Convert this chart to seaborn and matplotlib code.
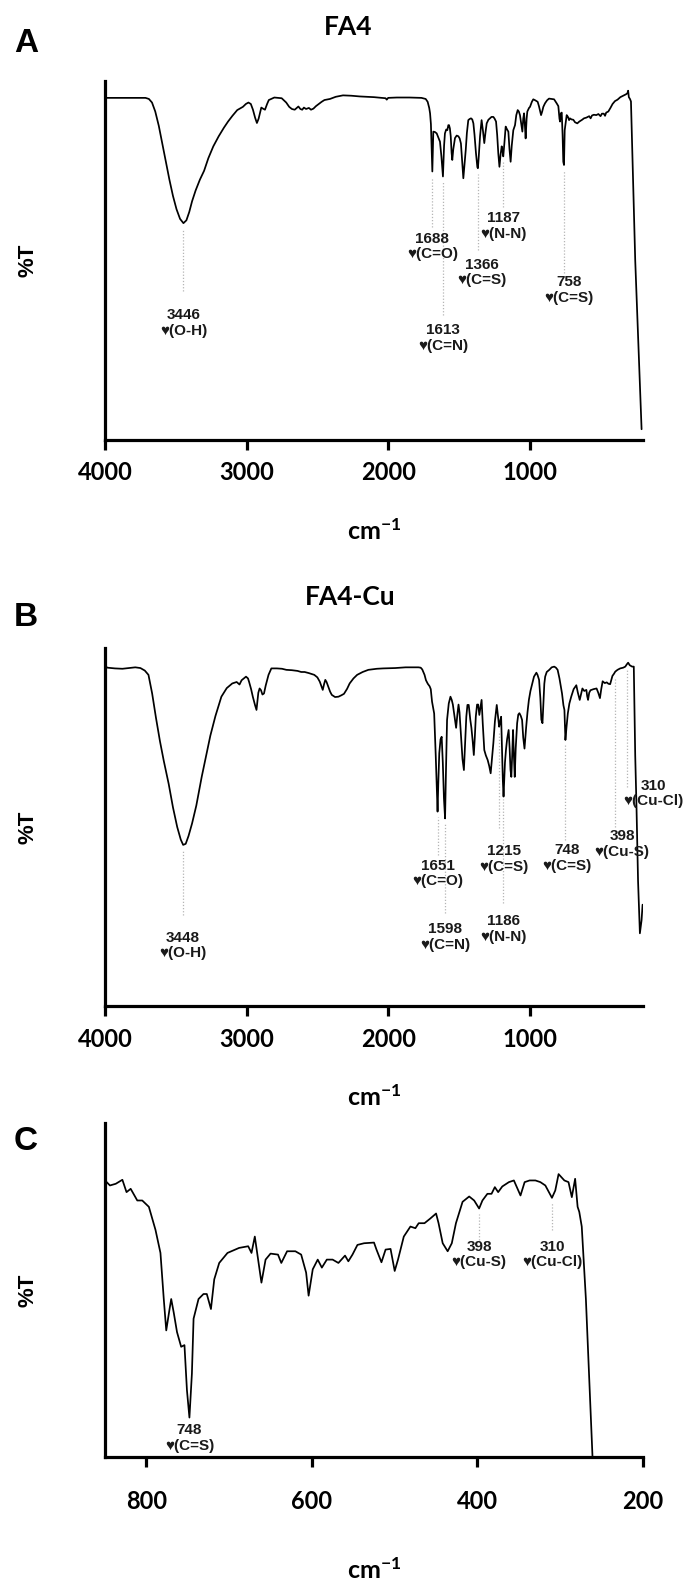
import numpy as np
import pandas as pd
import matplotlib
matplotlib.use("Agg")
import matplotlib.pyplot as plt
import seaborn as sns

# ---------------- data: panel A (FA4) ----------------
A_wn = [4000, 3850, 3714, 3690, 3668, 3645, 3620, 3595, 3570, 3545, 3520, 3495, 3470, 3446,
        3425, 3405, 3385, 3360, 3330, 3300, 3270, 3235, 3197, 3160, 3131, 3100, 3066, 3040,
        3026, 3005, 2987, 2970, 2955, 2940, 2927, 2915, 2909, 2896, 2884, 2870, 2855, 2843,
        2804, 2752, 2720, 2699, 2680, 2660, 2645, 2634, 2620, 2607, 2595, 2580, 2560, 2545,
        2528, 2510, 2490, 2470, 2450, 2411, 2370, 2319, 2260, 2201, 2100, 2050, 2018, 2010,
        2000, 1939, 1850, 1765, 1735, 1721, 1710, 1704, 1698, 1688, 1681, 1670, 1657, 1645,
        1634, 1624, 1613, 1605, 1599, 1590, 1582, 1575, 1570, 1564, 1558, 1552, 1547, 1540,
        1528, 1516, 1504, 1495, 1486, 1478, 1469, 1460, 1452, 1444, 1434, 1425, 1415, 1406,
        1398, 1390, 1380, 1370, 1366, 1360, 1351, 1343, 1340, 1330, 1321, 1313, 1304, 1292,
        1281, 1270, 1257, 1248, 1238, 1230, 1222, 1214, 1206, 1198, 1192, 1187, 1179, 1172,
        1170, 1160, 1151, 1143, 1135, 1127, 1116, 1104, 1095, 1085, 1077, 1069, 1060, 1052,
        1046, 1040, 1034, 1029, 1022, 1017, 1005, 998, 985, 975, 960, 944, 935, 926, 920,
        912, 904, 892, 878, 864, 845, 828, 810, 798, 790, 786, 780, 774, 768, 763, 758, 753,
        746, 739, 730, 722, 716, 705, 692, 680, 664, 650, 630, 617, 600, 580, 570, 560, 547,
        530, 515, 500, 490, 477, 468, 460, 445, 430, 415, 398, 380, 360, 340, 320, 310, 305,
        300, 292, 285, 255, 210]
A_T = [95.3, 95.3, 95.3, 95.0, 94.0, 91.5, 87.5, 82.5, 77.5, 72.5, 68.0, 64.3, 61.6, 60.4,
       61.2, 63.5, 66.5, 69.5, 72.5, 75.0, 78.5, 81.8, 84.6, 87.0, 88.7, 90.3, 91.9, 92.5,
       92.8, 93.6, 94.0, 93.6, 92.0, 89.8, 88.3, 89.5, 90.5, 92.6, 92.3, 92.0, 93.6, 94.7,
       95.4, 95.2, 94.0, 92.8, 92.2, 92.0, 92.5, 92.9, 92.2, 92.0, 92.6, 92.2, 92.5, 92.0,
       92.3, 93.0, 93.6, 94.2, 94.7, 95.0, 95.6, 96.0, 95.9, 95.7, 95.5, 95.3, 95.2, 94.8,
       95.3, 95.4, 95.4, 95.3, 95.0, 94.2, 92.5, 91.0, 88.0, 74.8, 85.9, 85.8, 85.4, 84.2,
       83.1, 79.0, 73.4, 82.0, 85.4, 86.5, 86.3, 87.7, 87.7, 86.8, 84.6, 80.0, 78.0, 81.0,
       84.1, 84.8, 84.6, 84.0, 82.6, 78.0, 72.9, 77.0, 80.8, 85.5, 89.1, 89.4, 89.6, 89.3,
       88.2, 85.0, 80.0, 76.0, 75.7, 79.0, 84.6, 88.0, 89.1, 86.0, 82.7, 85.5, 88.2, 89.2,
       89.6, 90.0, 90.0, 89.5, 88.7, 85.0, 79.8, 76.1, 79.5, 81.8, 80.5, 79.0, 82.7, 86.5,
       87.3, 86.5, 85.9, 81.0, 77.5, 82.0, 86.3, 87.7, 90.5, 91.9, 91.5, 90.5, 88.0, 85.9,
       89.5, 91.0, 87.5, 84.0, 89.5, 91.5, 92.5, 92.8, 94.2, 94.9, 94.6, 94.2, 93.0, 91.5, 90.5,
       91.5, 92.8, 93.8, 94.6, 95.1, 95.0, 94.9, 93.8, 93.0, 89.5, 88.7, 91.0, 91.2, 85.0, 77.5,
       76.6, 86.3, 88.5, 90.5, 90.0, 89.1, 89.6, 89.3, 89.2, 88.5, 88.2, 88.7, 89.2, 89.6, 89.8,
       90.2, 89.6, 90.4, 90.6, 90.5, 90.8, 90.2, 90.9, 90.9, 90.3, 91.2, 91.5, 92.5, 93.6, 94.4,
       94.8, 95.5, 95.9, 96.3, 96.6, 97.3, 95.5, 95.0, 94.3, 50.1, 3.0]
A_peaks = [3446, 1688, 1613, 1366, 1187, 758]
A_modes = ["O-H", "C=O", "C=N", "C=S", "N-N", "C=S"]

# ---------------- data: panel B (FA4-Cu) ----------------
B_wn = [4000, 3982, 3930, 3877, 3830, 3786, 3750, 3719, 3693, 3667, 3640, 3612, 3585, 3550,
        3520, 3490, 3465, 3448, 3430, 3410, 3385, 3355, 3317, 3285, 3256, 3220, 3178, 3140,
        3101, 3070, 3050, 3035, 3004, 2990, 2982, 2968, 2956, 2940, 2930, 2922, 2917, 2908,
        2898, 2888, 2877, 2865, 2845, 2825, 2786, 2750, 2719, 2680, 2640, 2614, 2590, 2561,
        2522, 2500, 2483, 2470, 2462, 2452, 2444, 2435, 2425, 2410, 2398, 2375, 2351, 2330,
        2312, 2290, 2272, 2245, 2219, 2180, 2140, 2080, 2035, 1950, 1877, 1786, 1770, 1759,
        1743, 1733, 1720, 1707, 1699, 1690, 1675, 1664, 1656, 1651, 1646, 1639, 1630, 1622,
        1614, 1606, 1598, 1592, 1584, 1572, 1560, 1551, 1543, 1530, 1520, 1511, 1503, 1496,
        1484, 1475, 1465, 1456, 1448, 1440, 1431, 1420, 1412, 1403, 1395, 1388, 1381, 1372,
        1364, 1356, 1348, 1340, 1332, 1321, 1310, 1297, 1286, 1276, 1266, 1257, 1246, 1233,
        1226, 1216, 1209, 1202, 1196, 1190, 1185, 1180, 1175, 1168, 1160, 1149, 1142, 1136,
        1130, 1124, 1118, 1112, 1106, 1099, 1089, 1081, 1073, 1063, 1054, 1046, 1037, 1031,
        1025, 1016, 1006, 995, 982, 970, 953, 945, 934, 925, 918, 910, 904, 897, 891, 880,
        862, 845, 827, 815, 803, 790, 772, 762, 755, 748, 740, 731, 720, 707, 690, 671, 660,
        647, 638, 628, 615, 600, 594, 588, 580, 571, 550, 528, 516, 504, 495, 485, 470, 456,
        444, 432, 424, 416, 405, 396, 380, 361, 340, 325, 315, 305, 294, 285, 277, 265, 255,
        246, 235, 222, 210, 203]
B_T = [94.9, 94.5, 94.3, 94.2, 94.4, 94.6, 94.4, 93.7, 92.5, 87.3, 80.5, 74.0, 68.5, 62.0,
       55.5, 50.0, 46.5, 45.0, 45.3, 47.5, 51.0, 56.0, 64.0, 70.0, 75.5, 81.0, 86.4, 88.8,
       90.1, 90.5, 89.8, 91.0, 92.0, 91.5, 90.5, 88.5, 86.4, 84.0, 82.7, 85.5, 87.5, 88.7,
       88.2, 87.0, 87.3, 89.5, 92.5, 94.3, 94.3, 94.2, 93.9, 93.8, 93.6, 93.3, 93.3, 93.0,
       92.5, 91.8, 90.6, 89.2, 88.3, 90.0, 91.1, 90.5, 89.4, 87.8, 86.9, 86.3, 86.4, 86.8,
       87.2, 88.6, 90.1, 91.5, 92.5, 93.3, 93.9, 94.2, 94.3, 94.4, 94.6, 94.6, 94.5, 94.0,
       92.5, 91.0, 90.0, 89.3, 88.5, 85.0, 81.7, 70.0, 60.0, 54.3, 62.0, 70.6, 74.5, 75.2,
       68.0, 58.0, 52.4, 65.0, 79.9, 84.5, 86.4, 85.5, 84.2, 80.5, 77.7, 81.5, 84.2, 82.0,
       74.8, 69.0, 65.9, 74.0, 80.8, 84.1, 84.1, 80.0, 77.7, 74.0, 70.1, 75.0, 80.8, 84.2,
       84.2, 81.3, 83.5, 85.5, 79.0, 71.5, 70.0, 68.7, 67.0, 65.0, 69.5, 73.4, 79.5, 84.1,
       81.5, 78.0, 79.5, 80.8, 72.0, 63.0, 58.5, 63.0, 68.0, 71.5, 74.5, 77.1, 72.0, 66.0,
       64.0, 70.0, 77.1, 70.0, 64.0, 72.0, 79.0, 81.4, 81.8, 81.0, 79.9, 75.0, 71.9, 75.0,
       78.0, 82.0, 85.5, 88.0, 90.1, 92.0, 93.1, 92.5, 91.1, 86.0, 80.0, 79.0, 84.0, 90.0, 92.0, 93.3,
       93.9, 94.6, 94.8, 94.5, 93.9, 91.5, 87.3, 84.0, 82.7, 74.3, 78.0, 81.7, 84.5, 86.4, 88.5, 89.6, 87.5,
       85.5, 87.0, 88.7, 88.0, 88.3, 86.5, 85.5, 87.5, 88.2, 88.5, 88.7, 87.5, 86.0, 88.5, 90.7, 90.2, 90.4,
       90.0, 89.9, 91.0, 92.2, 92.8, 93.4, 93.9, 94.3, 94.5, 94.8, 95.4, 95.9, 95.2, 95.0, 94.8, 94.8, 70.0,
       55.7, 35.0, 20.3, 24.0, 28.3]
B_peaks = [3448, 1651, 1598, 1215, 1186, 748, 398, 310]
B_modes = ["O-H", "C=O", "C=N", "C=S", "N-N", "C=S", "Cu-S", "Cu-Cl"]

# ---------------- data: panel C (FA4-Cu, 850-200 cm-1) ----------------
C_wn = [850, 844, 837, 829, 824, 819, 811, 805, 797, 789, 783, 779, 776, 772, 770, 767, 763,
        758, 754, 751, 748, 745, 743, 737, 731, 727, 722, 718, 712, 702, 688, 677, 673, 669,
        665, 661, 656, 650, 641, 637, 630, 620, 613, 607, 604, 599, 593, 588, 582, 575, 568,
        560, 556, 551, 545, 537, 525, 522, 516, 511, 505, 500, 496, 489, 481, 475, 471, 464,
        457, 450, 447, 442, 436, 431, 426, 418, 410, 404, 398, 394, 388, 383, 379, 375, 370,
        362, 356, 348, 343, 337, 330, 324, 318, 310, 306, 302, 295, 290, 286, 282, 279, 277,
        274, 269, 261]
C_T = [82.8, 81.3, 81.8, 83.0, 79.3, 80.3, 76.8, 76.8, 74.9, 68.0, 61.1, 47.3, 37.9, 44.3,
       47.3, 43.3, 37.4, 33.0, 33.5, 20.0, 11.8, 25.0, 41.4, 47.3, 48.8, 48.8, 44.3, 53.2,
       58.1, 61.1, 62.6, 63.1, 61.1, 66.0, 59.1, 52.2, 59.1, 60.9, 60.6, 58.1, 61.6, 61.6,
       60.6, 55.2, 48.3, 56.2, 59.1, 56.7, 59.1, 59.1, 58.1, 60.3, 58.6, 60.6, 63.5, 64.0,
       64.2, 62.1, 58.3, 62.1, 62.3, 55.7, 59.1, 66.0, 69.0, 68.5, 70.0, 70.0, 71.4, 72.9,
       70.0, 64.0, 61.6, 64.0, 70.0, 76.4, 78.0, 76.8, 74.4, 76.8, 78.8, 78.8, 80.8, 79.3,
       81.0, 82.3, 82.8, 78.3, 82.3, 82.8, 82.8, 82.3, 81.3, 77.6, 79.8, 84.7, 82.8, 82.3,
       77.8, 83.3, 74.9, 73.4, 69.0, 47.3, 0.0]
C_peaks = [748, 398, 310]
C_modes = ["C=S", "Cu-S", "Cu-Cl"]

# tick labels
AB_ticks = [4000, 3000, 2000, 1000]
C_ticks = [800, 600, 400, 200]

# ---------------- layout (not data) ----------------
# (leader bottom in %T or None, label centre in %T, label x-shift in cm-1)
A_layout = [(41.4, 32.6, 0), (59.4, 53.9, 0), (34.9, 28.4, 0), (53.0, 46.7, -30),
            (65.0, 59.7, 0), (46.5, 41.8, -35)]
B_layout = [(25.4, 16.9, 0), (42.2, 37.0, 0), (25.9, 19.2, 0), (49.7, 41.0, -32),
            (28.7, 21.5, 0), (46.5, 41.3, -10), (50.1, 45.2, -50), (61.3, 59.4, -186)]
C_layout = [(None, 5.7, 0), (65.0, 60.6, 0), (68.0, 60.6, 0)]

sns.set_theme(style="white")
plt.rcParams["font.family"] = ["Lato", "DejaVu Sans"]
plt.rcParams["font.weight"] = "bold"
plt.rcParams["text.color"] = "black"
plt.rcParams["axes.labelcolor"] = "black"
plt.rcParams["xtick.color"] = "black"
plt.rcParams["mathtext.fontset"] = "custom"
plt.rcParams["mathtext.rm"] = "Lato:bold"
plt.rcParams["mathtext.it"] = "Lato:bold"
plt.rcParams["mathtext.bf"] = "Lato:bold"
plt.rcParams["mathtext.default"] = "rm"

W, H = 683, 1582
fig = plt.figure(figsize=(W / 100, H / 100), dpi=100)
fig.patch.set_facecolor("white")


def add_axes(l, r, t, b):
    return fig.add_axes([l / W, 1 - b / H, (r - l) / W, (b - t) / H])


LBL_FONT = ["Liberation Sans", "DejaVu Sans"]


def draw_panel(ax, wn, tr, xlim, ticks, peaks, modes, layout, tpad, lpad):
    df = pd.DataFrame({"wn": wn, "T": tr})
    sns.lineplot(data=df, x="wn", y="T", ax=ax, color="black", lw=1.25,
                 sort=False, estimator=None)
    ax.set_xlim(*xlim)
    ax.set_ylim(0, 100)
    ax.set_facecolor("white")
    ax.set_xticks(ticks)
    ax.set_xticklabels([str(t) for t in ticks])
    ax.set_yticks([])
    ax.set_ylabel("")
    for s in ["top", "right"]:
        ax.spines[s].set_visible(False)
    for s in ["left", "bottom"]:
        ax.spines[s].set_linewidth(2.3)
        ax.spines[s].set_color("black")
        ax.spines[s].set_capstyle("projecting")
    ax.tick_params(axis="x", bottom=True, direction="out", length=7, width=2.3,
                   color="black", labelsize=17, pad=tpad, labelcolor="black")
    for lab in ax.get_xticklabels():
        lab.set_fontweight("bold")
    ax.set_xlabel("cm$^{-1}$", fontsize=18, fontweight="bold", labelpad=lpad,
                  color="black")
    xs = np.array(wn, dtype=float)[::-1]
    ys = np.array(tr, dtype=float)[::-1]
    for p, mode, (ybot, ytxt, dx) in zip(peaks, modes, layout):
        ytop = np.interp(p, xs, ys) - 1.5
        if ybot is not None:
            ax.vlines(p, ybot, ytop, colors="#b5b5b5", linestyles=(0, (1, 1.5)),
                      lw=0.9, zorder=1)
        ax.text(p + dx, ytxt, f"{p}\n\u2665({mode})", ha="center", va="center",
                fontsize=11, family=LBL_FONT, fontweight="bold", color="#1a1a1a",
                linespacing=1.15, clip_on=False, zorder=3)


axA = add_axes(105, 643, 81, 440)
draw_panel(axA, A_wn, A_T, (4000, 200), AB_ticks, A_peaks, A_modes, A_layout, 8, 25)
axB = add_axes(105, 643, 648, 1006)
draw_panel(axB, B_wn, B_T, (4000, 200), AB_ticks, B_peaks, B_modes, B_layout, 9, 24)
axC = add_axes(105, 643, 1123, 1457)
draw_panel(axC, C_wn, C_T, (850, 200), C_ticks, C_peaks, C_modes, C_layout, 17, 32)


def ftext(x, y, s, **kw):
    fig.text(x / W, 1 - y / H, s, ha="center", va="center", color="black", **kw)


ftext(26, 44, "A", fontsize=24, family=LBL_FONT, fontweight="bold")
ftext(26, 617, "B", fontsize=24, family=LBL_FONT, fontweight="bold")
ftext(26, 1141, "C", fontsize=24, family=LBL_FONT, fontweight="bold")
ftext(348, 27, "FA4", fontsize=19, fontweight="bold")
ftext(350, 597, "FA4-Cu", fontsize=19, fontweight="bold")
for yc in [(81 + 440) / 2, (648 + 1006) / 2, (1123 + 1457) / 2]:
    ftext(28, yc, "%T", fontsize=16, family=LBL_FONT, fontweight="bold", rotation=90)

fig.savefig("out.png", dpi=100, facecolor="white")
